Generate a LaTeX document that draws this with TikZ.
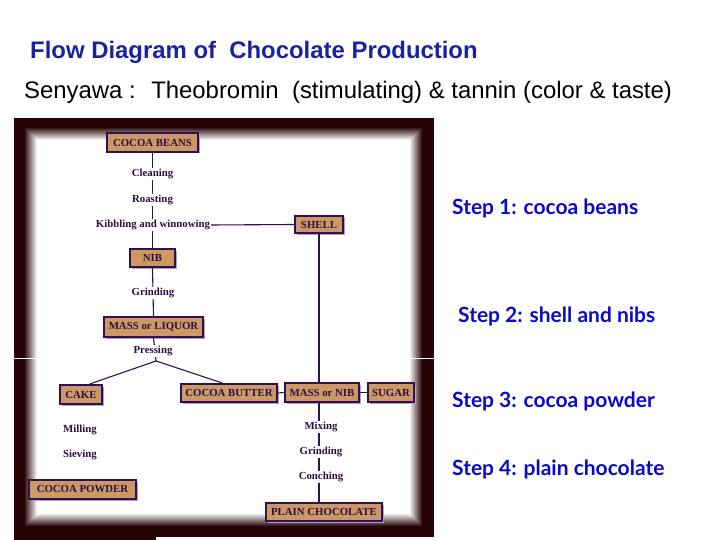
\documentclass[tikz,border=0pt]{standalone}
\usepackage{fontspec}
\setmainfont{Liberation Serif}
\newfontfamily\titlefont{Liberation Sans}
\newfontfamily\stepfont{Lato}
\usetikzlibrary{shadows}
\definecolor{framec}{RGB}{38,4,6}
\definecolor{boxfill}{RGB}{204,153,102}
\definecolor{boxline}{RGB}{48,16,80}
\definecolor{shadowc}{RGB}{176,160,205}
\definecolor{txtc}{RGB}{42,16,64}
\definecolor{titlec}{RGB}{25,35,160}
\definecolor{stepc}{RGB}{10,10,200}
\begin{document}
\begin{tikzpicture}[x=1pt,y=-1pt,
  box/.style={draw=boxline, line width=2.2pt, fill=boxfill, text=txtc,
    font=\fontsize{10.8}{11}\selectfont\bfseries, inner sep=0pt,
    drop shadow={shadow xshift=1.5pt, shadow yshift=-1.5pt, fill=shadowc, opacity=1}},
  lbl/.style={fill=white, text=txtc, font=\fontsize{10.8}{11}\selectfont\bfseries, inner sep=1pt},
  conn/.style={draw=boxline, line width=1.1pt},
  steptext/.style={anchor=west, text=stepc, font=\fontsize{21}{23}\selectfont\stepfont\bfseries, inner sep=0pt}]
\useasboundingbox (0,0) rectangle (720,540);
% frame
\fill[framec] (14,118) rectangle (434,537);
\fill[framec] (14,537) rectangle (156,540);
\foreach \i in {0,...,13}{
  \pgfmathtruncatemacro\p{100-\i*100/13}
  \fill[framec!\p!white] (24+\i,127+\i) rectangle (423-\i,527-\i);
}
\draw[white, line width=1.5pt] (14,358.5) -- (434,358.5);

% titles
\node[text=titlec, font=\fontsize{23.9}{26}\selectfont\titlefont\bfseries, anchor=west, inner sep=0pt] (title) at (30,52) {Flow Diagram of \ Chocolate Production};
\node[text=black, font=\fontsize{23.9}{26}\selectfont\titlefont, anchor=west, inner sep=0pt] (sub) at (24,92) {Senyawa : \ Theobromin \ (stimulating) \& tannin (color \& taste)};

% boxes
\node[box, minimum width=91pt, minimum height=19pt] (beans) at (152.5,142.5) {COCOA BEANS};
\node[box, minimum width=48pt, minimum height=17pt] (shell) at (319,224.5) {SHELL};
\node[box, minimum width=45pt, minimum height=18pt] (nib) at (152.5,258) {NIB};
\node[box, minimum width=99pt, minimum height=20pt] (liquor) at (153.5,327) {MASS or LIQUOR};
\node[box, minimum width=42pt, minimum height=19pt] (cake) at (81,394.5) {CAKE};
\node[box, minimum width=96pt, minimum height=18pt] (butter) at (229,393) {COCOA BUTTER};
\node[box, minimum width=74pt, minimum height=19pt] (massnib) at (322,392.5) {MASS or NIB};
\node[box, minimum width=46pt, minimum height=19pt] (sugar) at (391,392.5) {SUGAR};
\node[box, minimum width=107pt, minimum height=19pt] (powder) at (82.5,489.5) {COCOA POWDER};
\node[box, minimum width=116pt, minimum height=18pt] (plain) at (324,512) {PLAIN CHOCOLATE};

% connectors (under labels)
\coordinate (split) at (156,361);
\draw[conn] (beans.south) -- (nib.north);
\draw[conn] (nib.south) -- (liquor.north);
\draw[conn] (liquor.south) -- (split);
\draw[conn] (split) -- ([xshift=9pt]cake.north);
\draw[conn] (split) -- ([xshift=-7pt]butter.north);
\draw[conn] (shell.south) -- (shell.south |- massnib.north);
\draw[conn] (butter.east) -- (massnib.west);
\draw[conn] (massnib.east) -- (sugar.west);
\draw[conn] (massnib.south -| shell.south) -- (shell.south |- plain.north);

% labels
\node[lbl] (clean) at (152.5,174) {Cleaning};
\node[lbl] (roast) at (152.5,200) {Roasting};
\node[lbl] (kibb) at (153,225) {Kibbling and winnowing};
\draw[conn] (kibb.east) -- (shell.west);
\node[lbl] (grind1) at (153,293) {Grinding};
\node[lbl] (press) at (153,351) {Pressing};
\node[lbl] (mill) at (80,430) {Milling};
\node[lbl] (sieve) at (80,455) {Sieving};
\node[lbl] (mix) at (321,427) {Mixing};
\node[lbl] (grind2) at (321,452) {Grinding};
\node[lbl] (conch) at (321,477) {Conching};

% steps
\node[steptext] (s1) at (452,208) {Step 1: cocoa beans};
\node[steptext] (s2) at (458,316) {Step 2: shell and nibs};
\node[steptext] (s3) at (452,401) {Step 3: cocoa powder};
\node[steptext] (s4) at (452,469) {Step 4: plain chocolate};
\end{tikzpicture}
\end{document}
